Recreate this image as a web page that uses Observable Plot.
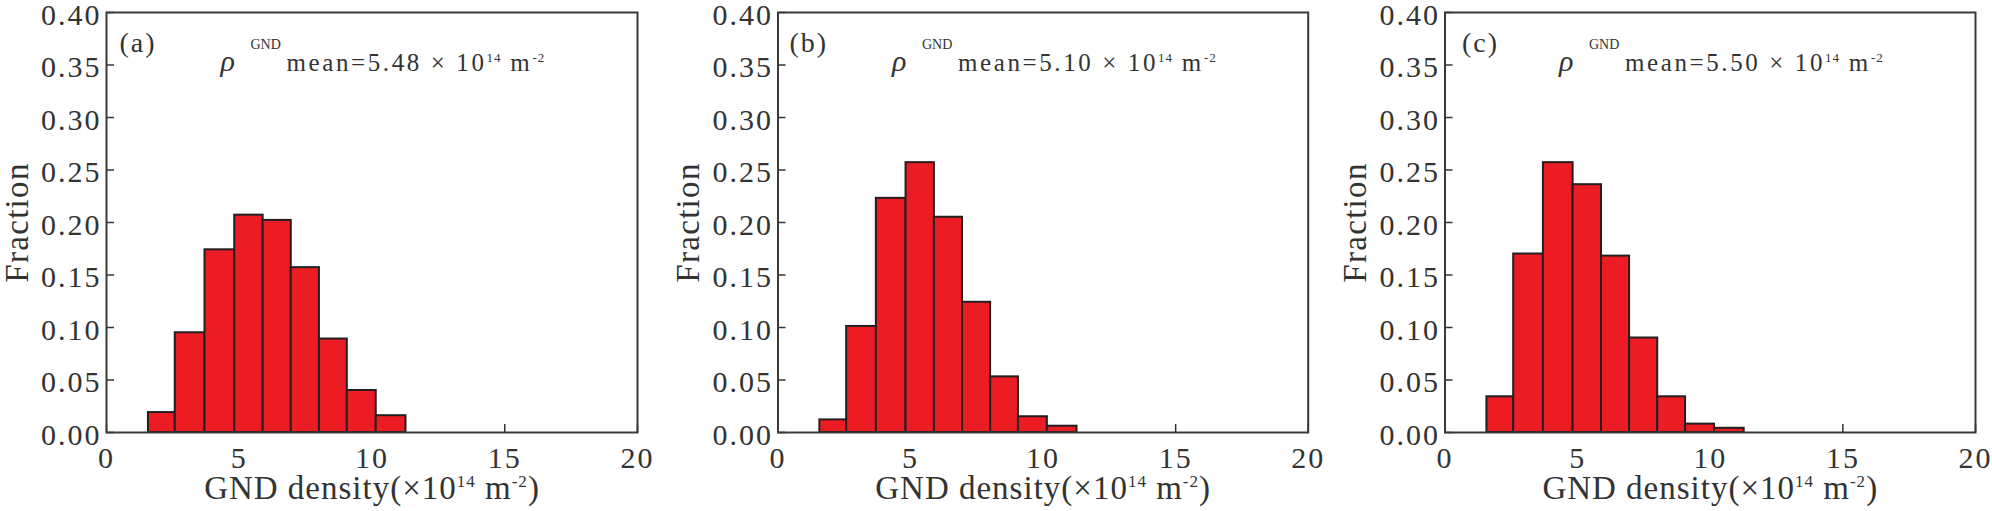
<!DOCTYPE html>
<html><head><meta charset="utf-8">
<script src="https://cdn.jsdelivr.net/npm/d3@7"></script>
<script src="https://cdn.jsdelivr.net/npm/@observablehq/plot@0.6"></script>
<style>
html,body{margin:0;padding:0;background:#fff;}
#row{display:flex;width:1992px;height:511px;overflow:hidden;}
#row > div{width:664px;height:511px;}
</style></head><body><div id="row"></div>
<script>
// ---- data ----
const binEdges = [1.58, 2.59, 3.71, 4.83, 5.90, 6.96, 8.02, 9.07, 10.16, 11.28];
const fractionA = [0.019, 0.095, 0.174, 0.207, 0.202, 0.157, 0.089, 0.040, 0.016];
const fractionB = [0.012, 0.101, 0.223, 0.257, 0.205, 0.124, 0.053, 0.015, 0.006];
const fractionC = [0.034, 0.170, 0.257, 0.236, 0.168, 0.090, 0.034, 0.008, 0.004];
const panelLetters = ["(a)", "(b)", "(c)"];
const meanValues = ["5.48", "5.10", "5.50"];
const xTicks = [0, 5, 10, 15, 20];
const yTicks = [0, 0.05, 0.10, 0.15, 0.20, 0.25, 0.30, 0.35, 0.40];
const yLabel = "Fraction";
const xLabelParts = ["GND density(×10", "14", " m", "-2", ")"];

// ---- layout ----
const panels = [
  {fractions: fractionA, ml: 106, mr: 27, letterDx: 13},
  {fractions: fractionB, ml: 113.5, mr: 20.3, letterDx: 11.5},
  {fractions: fractionC, ml: 116.5, mr: 17, letterDx: 17}
];

function richText(t, parts) {
  t.textContent = "";
  let shift = 0;
  for (const p of parts) {
    const ts = document.createElementNS("http://www.w3.org/2000/svg", "tspan");
    const target = p.shift || 0;
    if (target !== shift) { ts.setAttribute("dy", target - shift); shift = target; }
    if (p.size) ts.setAttribute("font-size", p.size);
    if (p.italic) ts.setAttribute("font-style", "italic");
    if (p.ls != null) ts.style.letterSpacing = p.ls + "px";
    if (p.x != null) ts.setAttribute("x", p.x);
    ts.textContent = p.t;
    t.appendChild(ts);
  }
}

const row = document.getElementById("row");
const xLabelText = xLabelParts.join("");
const yTickLabels = new Set(yTicks.map(d3.format(".2f")));
panels.forEach((p, k) => {
  const bins = p.fractions.map((f, i) => ({x1: binEdges[i], x2: binEdges[i + 1], y: f}));
  const chart = Plot.plot({
    width: 664, height: 511,
    marginTop: 12, marginBottom: 79, marginLeft: p.ml, marginRight: p.mr,
    x: {domain: [0, 20], label: null},
    y: {domain: [0, 0.4], label: null},
    style: {fontFamily: "'Liberation Serif', 'Times New Roman', serif", color: "#333", background: "transparent"},
    marks: [
      Plot.axisX({ticks: xTicks, tickSize: -8, tickPadding: 22, fontSize: 30, tickFormat: d => String(d), label: null, strokeWidth: 1.5}),
      Plot.axisY({ticks: yTicks, tickSize: -8, tickPadding: 13, fontSize: 30, tickFormat: d3.format(".2f"), label: null, strokeWidth: 1.5}),
      Plot.rectY(bins, {x1: "x1", x2: "x2", y: "y", fill: "#ec1c24", stroke: "#231f20", strokeWidth: 2}),
      Plot.frame({stroke: "#3a3a3a", strokeWidth: 2}),
      Plot.text([panelLetters[k]], {text: d => d, frameAnchor: "top-left", dx: p.letterDx, dy: 31, fontSize: 28, lineAnchor: "middle", textAnchor: "start", fill: "#333"}),
      Plot.text([meanValues[k]], {text: d => d, frameAnchor: "top-left", dx: 114, dy: 50, fontSize: 25, lineAnchor: "middle", textAnchor: "start", fill: "#333"}),
      Plot.text([yLabel], {text: d => d, frameAnchor: "left", dx: -102, rotate: -90, fontSize: 33, lineAnchor: "top", textAnchor: "middle", fill: "#333"}),
      Plot.text([xLabelText], {text: d => d, frameAnchor: "bottom", dy: 55.5, fontSize: 33, lineAnchor: "middle", textAnchor: "middle", fill: "#333"})
    ]
  });
  chart.querySelectorAll("text").forEach(t => {
    const c = t.textContent;
    if (c === meanValues[k]) {
      t.style.letterSpacing = "2.6px";
      richText(t, [
        {t: "ρ", italic: true, size: 30, ls: 0, x: 0},
        {t: "GND", size: 14, shift: -22, ls: 0, x: 30},
        {t: "mean=" + meanValues[k] + " × 10", x: 66},
        {t: "14", size: 13, shift: -9, ls: 1},
        {t: " m"},
        {t: "-2", size: 13, shift: -9, ls: 1}
      ]);
    } else if (c === xLabelText) {
      t.style.letterSpacing = "1px";
      richText(t, [
        {t: xLabelParts[0]},
        {t: xLabelParts[1], size: 17, shift: -12},
        {t: xLabelParts[2]},
        {t: xLabelParts[3], size: 17, shift: -12},
        {t: xLabelParts[4]}
      ]);
    } else if (c === yLabel) {
      t.style.letterSpacing = "1.3px";
    } else {
      t.style.letterSpacing = "2px";
      if (yTickLabels.has(c)) t.setAttribute("y", "0.40em");
    }
  });
  const div = document.createElement("div");
  div.appendChild(chart);
  row.appendChild(div);
});
</script>
</body></html>
